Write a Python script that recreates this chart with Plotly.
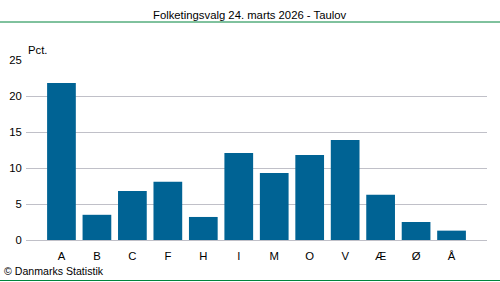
import plotly.graph_objects as go

categories = ["A", "B", "C", "F", "H", "I", "M", "O", "V", "Æ", "Ø", "Å"]
values = [21.8, 3.5, 6.8, 8.1, 3.2, 12.1, 9.3, 11.8, 13.9, 6.3, 2.5, 1.3]
y_ticks = [0, 5, 10, 15, 20, 25]

title_text = "Folketingsvalg 24. marts 2026 - Taulov"
unit_text = "Pct."
source_text = "© Danmarks Statistik"

W, H = 500, 282
L, R, T, B = 26, 13, 60, 42
pw, ph = W - L - R, H - T - B

def px_to_paper_y(py):
    return (H - B - py) / ph

def px_to_paper_x(px):
    return (px - L) / pw

FAM = "Liberation Sans, Arial, sans-serif"
font = dict(family=FAM, size=11.3, color="#000000")
src_font = dict(family=FAM, size=10.6, color="#000000")
green = "#00843d"

fig = go.Figure(go.Bar(
    x=categories, y=values, marker=dict(color="#006394", line=dict(width=0)),
    width=0.81,
))

fig.update_layout(
    width=W, height=H, margin=dict(l=L, r=R, t=T, b=B, autoexpand=False),
    paper_bgcolor="white", plot_bgcolor="white",
    font=font, showlegend=False, bargap=0.2,
    xaxis=dict(type="category", range=[-1, 12], showgrid=False, showline=False,
               zeroline=False, ticks="outside", ticklen=5, tickcolor="rgba(0,0,0,0)",
               tickfont=font, fixedrange=True, automargin=False),
    yaxis=dict(range=[0, 25], tickvals=y_ticks, showgrid=True, gridcolor="#c0c0c8",
               gridwidth=1, zeroline=True, zerolinecolor="#c0c0c8", zerolinewidth=1,
               showline=False, ticks="outside", ticklen=1, tickcolor="rgba(0,0,0,0)",
               tickfont=font, fixedrange=True, automargin=False),
    shapes=[
        dict(type="line", xref="paper", yref="paper",
             x0=px_to_paper_x(0), x1=px_to_paper_x(W), y0=px_to_paper_y(22), y1=px_to_paper_y(22),
             line=dict(color=green, width=1)),
        dict(type="line", xref="paper", yref="paper",
             x0=px_to_paper_x(0), x1=px_to_paper_x(W), y0=px_to_paper_y(280.5), y1=px_to_paper_y(280.5),
             line=dict(color=green, width=1)),
    ],
    annotations=[
        dict(text=title_text, xref="paper", yref="paper", x=px_to_paper_x(250), y=px_to_paper_y(15),
             xanchor="center", yanchor="middle", showarrow=False, font=font),
        dict(text=unit_text, xref="paper", yref="paper", x=px_to_paper_x(26), y=px_to_paper_y(50),
             xanchor="left", yanchor="middle", showarrow=False, font=font),
        dict(text=source_text, xref="paper", yref="paper", x=px_to_paper_x(2), y=px_to_paper_y(271),
             xanchor="left", yanchor="middle", showarrow=False, font=src_font),
    ],
)

fig.write_html("out.html")
